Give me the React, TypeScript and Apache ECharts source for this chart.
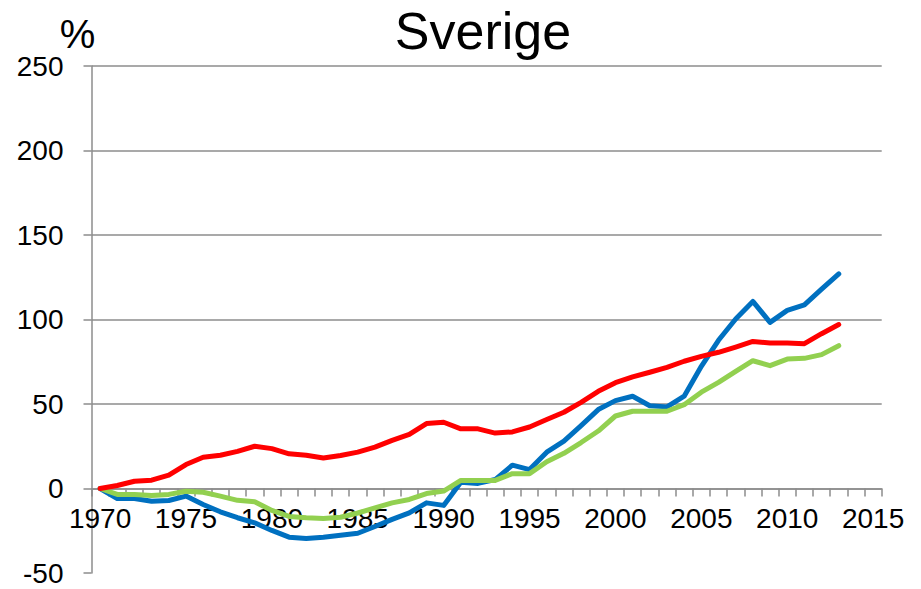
import React, { useEffect, useRef } from "react";
import * as echarts from "echarts";

const years: string[] = [
  "1970", "1971", "1972", "1973", "1974", "1975", "1976", "1977", "1978", "1979",
  "1980", "1981", "1982", "1983", "1984", "1985", "1986", "1987", "1988", "1989",
  "1990", "1991", "1992", "1993", "1994", "1995", "1996", "1997", "1998", "1999",
  "2000", "2001", "2002", "2003", "2004", "2005", "2006", "2007", "2008", "2009",
  "2010", "2011", "2012", "2013", "2014", "2015",
];

const blueValues: number[] = [
  0, -5.9, -5.9, -7.5, -7.1, -4.5, -9.5, -13.8, -17.3, -20.3,
  -24.8, -28.8, -29.6, -28.8, -27.6, -26.5, -22.5, -18.3, -14.4, -8.5,
  -10, 3.7, 3, 5.3, 13.8, 11.2, 21.5, 28, 37.2, 46.7,
  52, 54.6, 49, 48.3, 54.6, 72.3, 87.7, 100.3, 110.7, 98.3,
  105.4, 108.7, 118, 127,
];

const greenValues: number[] = [
  0, -3.5, -3.5, -4.1, -3.5, -1.6, -2.2, -4.5, -7, -7.9,
  -13, -16.5, -17.3, -17.7, -17, -14.5, -11.5, -8.5, -6.5, -3,
  -1.5, 4.8, 4.8, 4.8, 8.8, 8.8, 15.8, 20.8, 27.2, 34,
  42.9, 45.7, 45.7, 45.7, 49.6, 57, 62.8, 69.3, 75.6, 72.7,
  76.6, 77, 79.2, 84.5,
];

const redValues: number[] = [
  0, 1.8, 4.3, 4.9, 7.9, 14.2, 18.5, 19.7, 22, 25,
  23.6, 20.5, 19.7, 18, 19.5, 21.5, 24.5, 28.5, 32, 38.4,
  39.2, 35.3, 35.3, 32.8, 33.5, 36.4, 40.8, 45.1, 51, 57.5,
  62.6, 66, 68.8, 71.7, 75.3, 78.2, 80.6, 83.7, 87, 86.1,
  86.1, 85.7, 91.6, 97,
];

const titleText = "Sverige";
const unitText = "%";

const FONT = "'Liberation Sans', Arial, Helvetica, sans-serif";
const GRID_COLOR = "#8c8c8c";

const GRID_TOP = 66;
const GRID_BOTTOM = 16;
const CHART_H = 589;
const Y_MIN = -50;
const Y_MAX = 250;

export default function App() {
  const ref = useRef<HTMLDivElement>(null);

  useEffect(() => {
    if (!ref.current) return;
    const chart = echarts.init(ref.current, undefined, { renderer: "svg" });
    const plotH = CHART_H - GRID_TOP - GRID_BOTTOM;
    // distance from the grid's bottom edge up to the value 0
    const zeroOffset = (plotH * (0 - Y_MIN)) / (Y_MAX - Y_MIN);
    const lineSeries = (name: string, data: number[], color: string, z: number) => ({
      name,
      type: "line",
      data,
      symbol: "none",
      smooth: false,
      z,
      lineStyle: { color, width: 5, cap: "round", join: "round" },
      itemStyle: { color },
    });
    chart.setOption({
      animation: false,
      backgroundColor: "#ffffff",
      textStyle: { fontFamily: FONT },
      grid: {
        left: 91.5,
        right: 39.3,
        top: GRID_TOP,
        bottom: GRID_BOTTOM,
        containLabel: false,
        outerBoundsMode: "none",
      },
      graphic: [
        {
          type: "text",
          x: 483,
          y: 31,
          style: {
            text: titleText,
            fontSize: 52,
            fontFamily: FONT,
            fill: "#000",
            align: "center",
            verticalAlign: "middle",
          },
        },
        {
          type: "text",
          x: 77.5,
          y: 34,
          style: {
            text: unitText,
            fontSize: 40,
            fontFamily: FONT,
            fill: "#000",
            align: "center",
            verticalAlign: "middle",
          },
        },
      ],
      xAxis: {
        type: "category",
        data: years,
        boundaryGap: true,
        position: "bottom",
        offset: -zeroOffset,
        axisLine: { show: true, onZero: false, lineStyle: { color: GRID_COLOR, width: 1.5 } },
        axisTick: { show: true, interval: 0, length: 8, lineStyle: { color: GRID_COLOR, width: 1.5 } },
        axisLabel: {
          interval: 4,
          fontSize: 28,
          color: "#000",
          margin: 16,
          fontFamily: FONT,
        },
        splitLine: { show: false },
      },
      yAxis: {
        type: "value",
        min: Y_MIN,
        max: Y_MAX,
        interval: 50,
        axisLine: { show: true, lineStyle: { color: GRID_COLOR, width: 1.5 } },
        axisTick: { show: true, length: 8, lineStyle: { color: GRID_COLOR, width: 1.5 } },
        axisLabel: { fontSize: 28, color: "#000", margin: 28, fontFamily: FONT },
        splitLine: {
          show: true,
          showMinLine: false,
          lineStyle: { color: GRID_COLOR, width: 1.5 },
        },
      },
      series: [
        lineSeries("blue", blueValues, "#0070C0", 2),
        lineSeries("green", greenValues, "#92D050", 3),
        lineSeries("red", redValues, "#FF0000", 4),
      ],
    });
    return () => chart.dispose();
  }, []);

  return (
    <div
      ref={ref}
      style={{ position: "absolute", left: 0, top: 0, width: 921, height: 589 }}
    />
  );
}
